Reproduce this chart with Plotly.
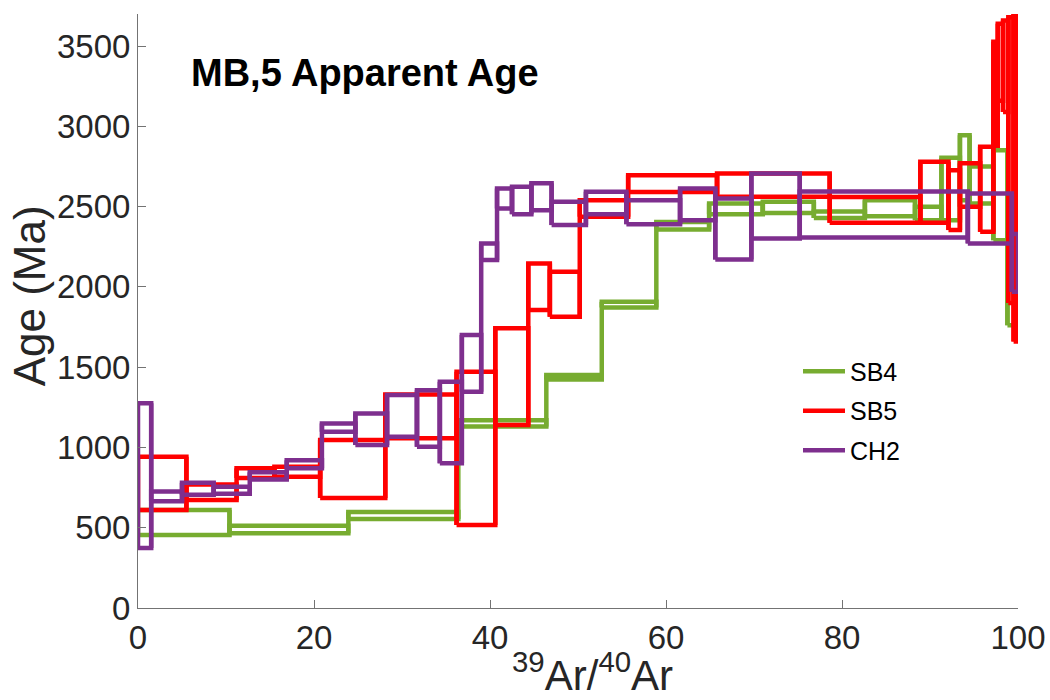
import plotly.graph_objects as go

# ---- data (cumulative 39Ar fraction step edges, age lower / upper bounds in Ma) ----
sb4_edges = [0, 10.4, 23.9, 36.4, 46.4, 52.7, 58.9, 64.9, 71.0, 76.8, 82.6, 88.3, 91.3, 93.4, 94.5, 97.2, 98.8, 100]
sb4_lo = [455, 465, 555, 1130, 1424, 1872, 2358, 2453, 2460, 2430, 2440, 2416, 2416, 2540, 2520, 2291, 1762]
sb4_hi = [610, 512, 598, 1170, 1451, 1907, 2405, 2520, 2530, 2470, 2540, 2500, 2805, 2945, 2750, 2852, 2335]

sb5_edges = [0, 5.5, 11.2, 15.5, 20.7, 28.1, 36.2, 40.6, 44.35, 46.8, 50.2, 55.7, 65.8, 78.6, 88.9, 92.1, 93.4, 95.7, 97.2, 97.7, 98.3, 98.9, 99.5, 100]
sb5_lo = [610, 672, 810, 818, 685, 1057, 517, 1140, 1856, 1814, 2437, 2592, 2561, 2399, 2400, 2354, 2500, 2343, 2880, 3160, 3090, 1900, 1660]
sb5_hi = [942, 770, 870, 880, 1046, 1330, 1471, 1742, 2146, 2094, 2540, 2696, 2707, 2560, 2779, 2727, 2770, 2873, 3527, 3640, 3660, 3680, 3700]

ch2_edges = [0, 1.5, 5.0, 8.6, 12.7, 16.9, 20.9, 24.7, 28.3, 31.7, 34.3, 36.8, 39.0, 40.8, 42.5, 44.7, 47.0, 50.9, 55.5, 61.6, 65.6, 69.7, 75.2, 94.3, 99.3, 100]
ch2_lo = [374, 665, 705, 712, 800, 870, 1098, 1015, 1067, 1004, 901, 1347, 2167, 2489, 2453, 2478, 2385, 2453, 2391, 2416, 2171, 2302, 2308, 2271, 1970]
ch2_hi = [1276, 725, 780, 755, 845, 920, 1150, 1212, 1326, 1357, 1409, 1700, 2271, 2613, 2624, 2645, 2531, 2593, 2540, 2613, 2551, 2707, 2595, 2582, 2330]

samples = ["SB4", "SB5", "CH2"]
colors = ["#77AC30", "#FF0000", "#7E2F8E"]
x_ticks = [0, 20, 40, 60, 80, 100]
y_ticks = [0, 500, 1000, 1500, 2000, 2500, 3000, 3500]
title_text = "MB,5 Apparent Age"
x_title = "<sup>39</sup>Ar/<sup>40</sup>Ar"
y_title = "Age (Ma)"


def spectrum(edges, lo, hi):
    xs, ys = [], []
    n = len(lo)
    for i in range(n):
        x0, x1 = edges[i], edges[i + 1]
        xs += [x0, x1, x1, x0, x0, None]
        ys += [lo[i], lo[i], hi[i], hi[i], lo[i], None]
    # connecting verticals between consecutive steps
    for i in range(1, n):
        xe = edges[i]
        xs += [xe, xe, None]
        ys += [min(lo[i - 1], lo[i]), max(hi[i - 1], hi[i]), None]
    return xs, ys


fig = go.Figure()
for name, col, (e, lo, hi) in zip(samples, colors,
                                   [(sb4_edges, sb4_lo, sb4_hi),
                                    (sb5_edges, sb5_lo, sb5_hi),
                                    (ch2_edges, ch2_lo, ch2_hi)]):
    xs, ys = spectrum(e, lo, hi)
    fig.add_trace(go.Scatter(x=xs, y=ys, mode="lines", name=name,
                             legendgroup=name,
                             line=dict(color=col, width=4.5),
                             connectgaps=False, hoverinfo="skip"))

axis_col = "#262626"
fig.update_layout(
    width=1050, height=700,
    margin=dict(l=138, r=32, t=14, b=92, autoexpand=False),
    paper_bgcolor="white", plot_bgcolor="white",
    font=dict(family="Liberation Sans, Arial, sans-serif", color=axis_col),
    showlegend=True,
    legend=dict(x=0.75, y=0.437, xanchor="left", yanchor="top",
                font=dict(size=25, color="#000000"),
                bgcolor="rgba(0,0,0,0)", tracegroupgap=4, itemwidth=42),
    annotations=[
        dict(text="<b>" + title_text + "</b>", xref="paper", yref="paper",
             x=0.058, y=0.9, xanchor="left", yanchor="middle",
             showarrow=False, font=dict(size=38, color="#000000")),
        dict(text=y_title, xref="paper", yref="paper", textangle=-90,
             x=-0.123, y=0.526, xanchor="center", yanchor="middle",
             showarrow=False, font=dict(size=44, color=axis_col)),
        dict(text=x_title, xref="paper", yref="paper",
             x=0.516, y=-0.108, xanchor="center", yanchor="middle",
             showarrow=False, font=dict(size=42, color=axis_col)),
    ],
)
fig.update_xaxes(range=[0, 100], tickvals=x_ticks, ticks="inside", ticklen=8,
                 tickcolor="#737373", showline=True, linecolor="#737373", linewidth=1,
                 showgrid=False, zeroline=False, automargin=False,
                 tickfont=dict(size=33, color=axis_col))
fig.update_yaxes(range=[0, 3700], tickvals=y_ticks, ticks="inside", ticklen=8,
                 tickcolor="#737373", showline=True, linecolor="#737373", linewidth=1,
                 showgrid=False, zeroline=False, automargin=False,
                 tickfont=dict(size=33, color=axis_col))

fig.write_html("out.html")
